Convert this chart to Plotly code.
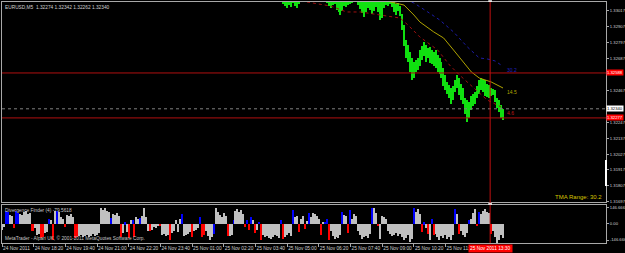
import plotly.graph_objects as go

# ---------------- data ----------------
symbol_title = "EURUSD,M5  1.32274 1.32342 1.32262 1.32340"
sub_title = "Divergence Finder (4) -79.5618"
copyright_text = "MetaTrader - Alpari UK, \u00a9 2001-2011 MetaQuotes Software Corp."
tma_range_text = "TMA Range: 30.2"

bar_start = 142
highs = [
    1.33135, 1.33121, 1.33114, 1.33128, 1.33107, 1.33135, 1.33121, 1.33114, 1.33128, 1.33135,
    1.33148, 1.33162, 1.33176, 1.33190, 1.33176, 1.33197, 1.33183, 1.33204, 1.33190, 1.33176,
    1.33162, 1.33148, 1.33135, 1.33121, 1.33114, 1.33107, 1.33128, 1.33121, 1.33107, 1.33093,
    1.33114, 1.33128, 1.33121, 1.33135, 1.33141, 1.33148, 1.33162, 1.33155, 1.33135, 1.33121,
    1.33107, 1.33093, 1.33114, 1.33128, 1.33121, 1.33107, 1.33114, 1.33128, 1.33107, 1.33093,
    1.33079, 1.33114, 1.33128, 1.33121, 1.33135, 1.33114, 1.33079, 1.33065, 1.33072, 1.33051,
    1.32996, 1.32920, 1.32816, 1.32782, 1.32733, 1.32692, 1.32664, 1.32678, 1.32692, 1.32747,
    1.32775, 1.32802, 1.32782, 1.32761, 1.32768, 1.32747, 1.32733, 1.32747, 1.32712, 1.32692,
    1.32664, 1.32622, 1.32574, 1.32526, 1.32505, 1.32484, 1.32498, 1.32539, 1.32574, 1.32553,
    1.32512, 1.32484, 1.32415, 1.32401, 1.32387, 1.32429, 1.32443, 1.32457, 1.32498, 1.32539,
    1.32553, 1.32546, 1.32539, 1.32512, 1.32505, 1.32484, 1.32477, 1.32470, 1.32415, 1.32401,
    1.32366, 1.32342,
]
lows = [
    1.33065, 1.33051, 1.33038, 1.33058, 1.33045, 1.33072, 1.33051, 1.33038, 1.33065, 1.33079,
    1.33093, 1.33107, 1.33114, 1.33121, 1.33107, 1.33128, 1.33114, 1.33135, 1.33121, 1.33107,
    1.33093, 1.33086, 1.33072, 1.33051, 1.33038, 1.33058, 1.33065, 1.33024, 1.33010, 1.32989,
    1.33017, 1.33051, 1.33045, 1.33058, 1.33065, 1.33072, 1.33093, 1.33079, 1.33058, 1.33031,
    1.33003, 1.32975, 1.33010, 1.33038, 1.33024, 1.32996, 1.33017, 1.33045, 1.33010, 1.32955,
    1.32968, 1.33038, 1.33058, 1.33051, 1.33065, 1.33045, 1.33010, 1.32989, 1.33017, 1.32982,
    1.32885, 1.32775, 1.32692, 1.32664, 1.32595, 1.32539, 1.32553, 1.32595, 1.32609, 1.32636,
    1.32678, 1.32706, 1.32664, 1.32692, 1.32657, 1.32650, 1.32636, 1.32622, 1.32595, 1.32581,
    1.32553, 1.32498, 1.32470, 1.32443, 1.32415, 1.32373, 1.32401, 1.32457, 1.32484, 1.32436,
    1.32401, 1.32373, 1.32304, 1.32249, 1.32277, 1.32332, 1.32360, 1.32373, 1.32415, 1.32443,
    1.32470, 1.32457, 1.32429, 1.32422, 1.32415, 1.32429, 1.32436, 1.32387, 1.32346, 1.32318,
    1.32277, 1.32262,
]
bar_idx = list(range(bar_start, bar_start + len(highs)))

# TMA centre (olive), upper band (blue dotted), lower band (red dotted)
tma_x = [192, 198, 203, 208, 211, 218, 223, 228, 233, 237, 241, 247, 253]
tma_y = [1.33093, 1.33072, 1.33058, 1.32989, 1.32941, 1.32872, 1.32830, 1.32747,
         1.32664, 1.32595, 1.32553, 1.32526, 1.32484]
upper_x = [204, 208, 215, 221, 228, 235, 241, 245, 249, 252]
upper_y = [1.33093, 1.33072, 1.33010, 1.32955, 1.32872, 1.32768, 1.32692, 1.32685,
           1.32671, 1.32643]
lower_x = [154, 161, 166, 174, 181, 191, 201, 205, 211, 220, 226, 231, 238, 245, 252]
lower_y = [1.33079, 1.33065, 1.33051, 1.33010, 1.33010, 1.32989, 1.32968, 1.32920,
           1.32837, 1.32747, 1.32643, 1.32574, 1.32484, 1.32401, 1.32353]
band_labels = ["30.2", "14.5", "4.6"]
band_label_y = [1.32609, 1.32457, 1.32311]

red_levels = [1.32588, 1.32277]
bid_price = 1.32340
cursor_bar = 246.5
cursor_time = "25 Nov 2011 13:30"

# right-hand price scale (labels hidden under the level boxes are left out)
price_ticks = [1.33017, 1.32907, 1.32797, 1.32687, 1.32467,
               1.32247, 1.32137, 1.32027, 1.31917, 1.31807, 1.31697]

osc_vals = [
    -50, -30, 120, 110, 80, 70, -40, 120, 100, 90,
    80, 110, 120, 90, 100, -65, -60, -40, -100, -90,
    -130, -120, -80, -70, 50, 40, -146, 120, 120, 110,
    60, 50, -30, 80, 70, 90, 60, -130, -120, -110,
    -100, -120, -110, -100, -120, -110, -90, -110, -100, -80,
    146, 130, 146, 120, 110, 55, 90, 80, 100, 70,
    -120, -80, 15, -70, -130, 40, 40, -120, 60, 50,
    55, 70, 146, 60, -60, -60, -50, -30, -40, -20,
    -15, -100, -90, -110, -100, -146, -80, -60, 40, -70,
    50, 90, -110, -100, -90, -70, -120, -60, -50, -40,
    65, -120, -100, -60, -110, -145, -120, -90, 146, 110,
    80, 60, 100, 70, -110, -110, -100, 35, 120, 140,
    110, 130, 90, -30, 35, -55, 60, 40, -80, -50,
    20, -146, -100, -120, -110, -130, -140, -120, -100, -110,
    -130, 35, -140, -120, -100, -80, -110, 125, 60, 70,
    -70, 50, 70, -45, 30, 100, 60, 100, 90, 70,
    50, -100, 20, 20, 45, -146, -60, -110, -140, -120,
    -130, -100, 110, 80, 70, -85, 125, 50, 90, 70,
    -60, -100, -140, -120, -110, -130, -90, 146, 146, 100,
    -20, -140, 70, 60, 50, -60, -90, -110, -100, -80,
    -110, -90, -120, -150, -130, -100, -160, -140, 146, 110,
    140, 90, -75, 15, -40, -90, -146, 45, -100, -90,
    -120, -146, -110, -130, -100, -140, -120, -146, -100, 140,
    90, -90, -60, -100, -120, -80, 35, 45, 100, 140,
    -20, 110, 90, 120, 140, 110, 100, -90, -60, -120,
    -170, -150, -100, -130,
]
osc_cols = (
    "ggbbggrbbg" "gggggrrggg" "rrggbgrgbg" "ggrggggrrg" "gggggggggg"
    "gggggbgggg" "rgbgrgbrgg" "bggggrgggg" "rggggrgggg" "gbggggrggg"
    "brrggggbgg" "ggggrggbgg" "gggrbrbgrg" "brgggggggg" "gbrggggbgg"
    "rggrgbgggg" "grgbbrgggg" "ggbggrbggg" "gggggggbgg" "rggggggggg"
    "ggggggggbg" "ggrbgrgbrg" "gggggggggb" "grggggbggg" "rbgggggrgg"
    "gggg"
)
osc_idx = list(range(len(osc_vals)))

time_ticks = [0, 16, 32, 48, 64, 80, 96, 112, 128, 144, 160, 176, 192, 208, 224]
time_labels = ["24 Nov 2011", "24 Nov 18:20", "24 Nov 19:40", "24 Nov 21:00",
               "24 Nov 22:20", "24 Nov 23:40", "25 Nov 01:00", "25 Nov 02:20",
               "25 Nov 03:40", "25 Nov 05:00", "25 Nov 06:20", "25 Nov 07:40",
               "25 Nov 09:00", "25 Nov 10:20", "25 Nov 11:40"]

sub_ticks = [146.666, 0.0, -146.666]
sub_labels = ["146.666", "0.00", "-146.666"]

# ---------------- style ----------------
FONT = "Liberation Sans"
BG = "#000000"
FRAME = "#a8a8a8"
TXT = "#d0d0d0"
GREEN = "#10e010"
AXF = 4.2
col_map = {"g": "#c0c0c0", "b": "#0000ff", "r": "#ff0000"}

fig = go.Figure()

fig.add_trace(go.Bar(
    x=bar_idx, y=[h - l for h, l in zip(highs, lows)], base=lows,
    width=0.65, marker=dict(color=GREEN, line=dict(width=0)),
    xaxis="x", yaxis="y", showlegend=False, hoverinfo="skip"))

fig.add_trace(go.Scatter(x=lower_x, y=lower_y, mode="lines",
                         line=dict(color="#a01010", width=1, dash="dot"),
                         xaxis="x", yaxis="y", showlegend=False))
fig.add_trace(go.Scatter(x=upper_x, y=upper_y, mode="lines",
                         line=dict(color="#1c1ca8", width=1, dash="dot"),
                         xaxis="x", yaxis="y", showlegend=False))
fig.add_trace(go.Scatter(x=tma_x, y=tma_y, mode="lines",
                         line=dict(color="#b0a400", width=1),
                         xaxis="x", yaxis="y", showlegend=False))

fig.add_trace(go.Bar(
    x=osc_idx, y=osc_vals, width=0.7,
    marker=dict(color=[col_map[c] for c in osc_cols], line=dict(width=0)),
    xaxis="x2", yaxis="y2", showlegend=False, hoverinfo="skip"))

shapes = []
for lv in red_levels:
    shapes.append(dict(type="line", xref="x domain", x0=0, x1=1, yref="y", y0=lv, y1=lv,
                       line=dict(color="#b01010", width=1)))
shapes.append(dict(type="line", xref="x domain", x0=0, x1=1, yref="y", y0=bid_price,
                   y1=bid_price, line=dict(color="#808080", width=1, dash="dot")))
shapes.append(dict(type="line", xref="x", x0=cursor_bar, x1=cursor_bar, yref="paper",
                   y0=0, y1=1, line=dict(color="#c01010", width=1)))
# small white handles of the vertical line
for yd in ["y domain", "y2 domain"]:
    shapes.append(dict(type="rect", xref="x", x0=cursor_bar - 0.9, x1=cursor_bar + 0.9,
                       yref=yd, y0=1, y1=1, ysizemode="pixel", yanchor=1,
                       line=dict(color="#ffffff", width=1), fillcolor="#c01010"))
# scroll mark on the price scale
shapes.append(dict(type="line", xref="paper", x0=1, x1=1, yref="paper", y0=0.237, y1=0.344,
                   line=dict(color="#ffffff", width=2)))

annotations = [
    dict(text=symbol_title, xref="paper", x=0, xanchor="left", xshift=1,
         yref="paper", y=1, yanchor="top", yshift=-1, showarrow=False,
         font=dict(family=FONT, size=4.8, color=TXT)),
    dict(text=tma_range_text, xref="paper", x=1, xanchor="right", xshift=-2,
         yref="y domain", y=0, yanchor="bottom", yshift=0, showarrow=False,
         font=dict(family=FONT, size=6, color="#d8c400")),
    dict(text=sub_title, xref="paper", x=0, xanchor="left", xshift=1,
         yref="y2 domain", y=1, yanchor="top", yshift=-1, showarrow=False,
         font=dict(family=FONT, size=4.8, color="#c8c8c8")),
    dict(text=copyright_text, xref="paper", x=0, xanchor="left", xshift=1,
         yref="y2 domain", y=0, yanchor="bottom", yshift=0, showarrow=False,
         font=dict(family=FONT, size=4.8, color="#c8c8c8")),
    dict(text=cursor_time, xref="x", x=cursor_bar, xanchor="center",
         yref="paper", y=0, yanchor="top", yshift=-1, showarrow=False,
         bgcolor="#ff0000", borderpad=1,
         font=dict(family=FONT, size=4.8, color="#ffffff")),
]
for txt, yy, cc in zip(band_labels, band_label_y, ["#2020c0", "#b0a400", "#c01818"]):
    annotations.append(dict(text=txt, xref="x", x=bar_idx[-1] + 1, xanchor="left",
                            yref="y", y=yy, showarrow=False,
                            font=dict(family=FONT, size=5, color=cc)))
for lv, bg, fc in [(red_levels[0], "#ff0000", "#ffffff"), (bid_price, "#ffffff", "#000000"),
                   (red_levels[1], "#ff0000", "#ffffff")]:
    annotations.append(dict(text=f"{lv:.5f}", xref="paper", x=1, xanchor="left", xshift=0,
                            yref="y", y=lv, showarrow=False, bgcolor=bg, borderpad=0,
                            font=dict(family=FONT, size=AXF, color=fc)))

XR = [0, 305]
fig.update_layout(
    width=625, height=253, autosize=False,
    margin=dict(l=2, r=19, t=2, b=10, autoexpand=False),
    paper_bgcolor=BG, plot_bgcolor=BG,
    showlegend=False, bargap=0,
    shapes=shapes, annotations=annotations,
    xaxis=dict(domain=[0, 1], range=XR, anchor="y", showticklabels=False,
               showgrid=False, zeroline=False, showline=True, mirror=True,
               linecolor=FRAME, linewidth=1, ticks="", automargin=False),
    yaxis=dict(domain=[0.170, 1], range=[1.31695, 1.33079], anchor="x", side="right",
               tickvals=price_ticks, ticktext=[f"{v:.5f}" for v in price_ticks],
               ticks="outside", ticklen=2, tickcolor=FRAME, automargin=False,
               tickfont=dict(family=FONT, size=AXF, color=TXT),
               showgrid=False, zeroline=False, showline=True, mirror=True,
               linecolor=FRAME, linewidth=1),
    xaxis2=dict(domain=[0, 1], range=XR, anchor="y2", matches="x",
                tickvals=time_ticks, ticktext=time_labels, tickangle=0,
                ticks="outside", ticklen=3, tickcolor=FRAME, automargin=False,
                ticklabelposition="outside right",
                tickfont=dict(family=FONT, size=4.8, color=TXT),
                showgrid=False, zeroline=False, showline=True, mirror=True,
                linecolor=FRAME, linewidth=1),
    yaxis2=dict(domain=[0, 0.158], range=[-174, 174], anchor="x2", side="right",
                tickvals=sub_ticks, ticktext=sub_labels, automargin=False,
                ticks="outside", ticklen=2, tickcolor=FRAME,
                tickfont=dict(family=FONT, size=AXF, color=TXT),
                showgrid=False, zeroline=False, showline=True, mirror=True,
                linecolor=FRAME, linewidth=1),
)

fig.write_html("out.html")
